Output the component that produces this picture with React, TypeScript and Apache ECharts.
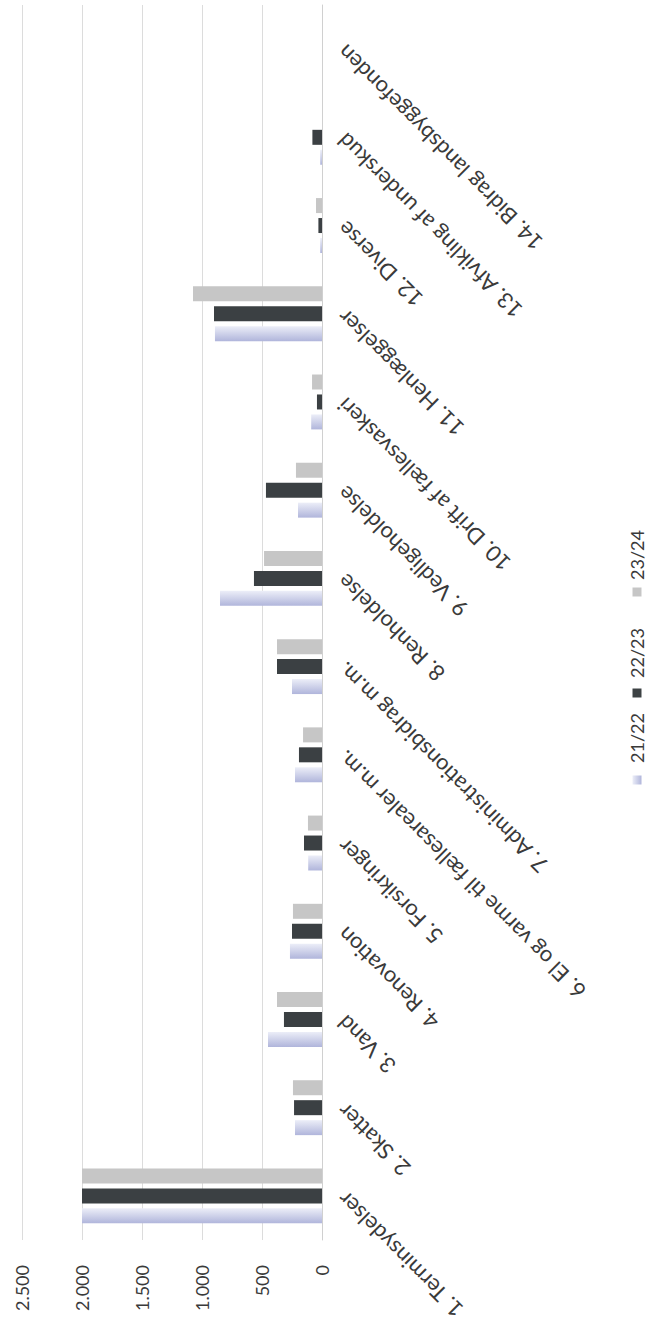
import React, { useEffect, useRef } from "react";
import * as echarts from "echarts";

const categories = [
  "1. Terminsydelser",
  "2. Skatter",
  "3. Vand",
  "4. Renovation",
  "5. Forsikringer",
  "6. El og varme til fællesarealer m.m.",
  "7. Administrationsbidrag m.m.",
  "8. Renholdelse",
  "9. Vedligeholdelse",
  "10. Drift af fællesvaskeri",
  "11. Henlæggelser",
  "12. Diverse",
  "13. Afvikling af underskud",
  "14. Bidrag landsbyggefonden",
];

const seriesNames = ["21/22", "22/23", "23/24"];
const values2122 = [2000, 225, 450, 267, 115, 225, 250, 850, 200, 90, 892, 15, 15, 0];
const values2223 = [2000, 233, 317, 250, 150, 192, 375, 567, 467, 42, 900, 30, 80, 0];
const values2324 = [2000, 242, 375, 242, 117, 158, 375, 483, 217, 83, 1075, 50, 0, 0];
const valueTicks = [0, 500, 1000, 1500, 2000, 2500];

const FONT = "Lato, 'Liberation Sans', sans-serif";
const TEXT = "#3a3a3a";

const lavender = () =>
  new echarts.graphic.LinearGradient(0, 0, 0, 1, [
    { offset: 0, color: "#eceef8" },
    { offset: 1, color: "#b0b5db" },
  ]);

export default function App() {
  const ref = useRef<HTMLDivElement>(null);
  useEffect(() => {
    if (!ref.current) return;
    const chart = echarts.init(ref.current, undefined, { renderer: "svg" });
    const fmt = (v: number) => String(v).replace(/\B(?=(\d{3})+(?!\d))/g, ".");
    const legendItems = [
      { name: seriesNames[0], iconX: -115, textX: -98, fill: lavender() as any },
      { name: seriesNames[1], iconX: -28, textX: -13, fill: "#3d4244" },
      { name: seriesNames[2], iconX: 73, textX: 85, fill: "#c6c6c6" },
    ];
    chart.setOption({
      animation: false,
      backgroundColor: "#ffffff",
      grid: { left: 22, right: 346, top: 5, bottom: 87, containLabel: false },
      xAxis: {
        type: "value",
        inverse: true,
        min: valueTicks[0],
        max: valueTicks[valueTicks.length - 1],
        interval: 500,
        position: "bottom",
        axisLine: { show: false },
        axisTick: { show: false },
        splitLine: { show: true, lineStyle: { color: "#dcdcdc", width: 1 } },
        axisLabel: {
          rotate: 90,
          margin: 25,
          fontSize: 18,
          fontFamily: FONT,
          color: TEXT,
          formatter: fmt,
        },
      },
      yAxis: {
        type: "category",
        position: "right",
        data: categories,
        boundaryGap: true,
        axisLine: { show: true, lineStyle: { color: "#d0d0d0", width: 1 } },
        axisTick: { show: false },
        splitLine: { show: false },
        axisLabel: {
          rotate: 135,
          margin: 19,
          fontSize: 22,
          fontFamily: FONT,
          color: TEXT,
          interval: 0,
        },
      },
      series: [
        {
          name: seriesNames[2],
          type: "bar",
          data: values2324,
          barWidth: 15,
          barGap: "33%",
          itemStyle: { color: "#c6c6c6" },
        },
        {
          name: seriesNames[1],
          type: "bar",
          data: values2223,
          barWidth: 15,
          barGap: "33%",
          itemStyle: { color: "#3b4043" },
        },
        {
          name: seriesNames[0],
          type: "bar",
          data: values2122,
          barWidth: 15,
          barGap: "33%",
          itemStyle: { color: lavender() },
        },
      ],
      graphic: [
        {
          type: "group",
          x: 637,
          y: 665,
          rotation: Math.PI / 2,
          children: legendItems.flatMap((it) => [
            {
              type: "rect",
              shape: { x: it.iconX - 4.5, y: -4.5, width: 9, height: 9 },
              style: { fill: it.fill },
            },
            {
              type: "text",
              x: it.textX,
              y: 0,
              style: {
                text: it.name,
                fontSize: 18,
                fontFamily: FONT,
                fill: TEXT,
                verticalAlign: "middle",
                align: "left",
              },
            },
          ]),
        },
      ],
    });
    return () => chart.dispose();
  }, []);
  return (
    <div
      ref={ref}
      style={{ position: "fixed", left: 0, top: 0, width: 668, height: 1327 }}
    />
  );
}
